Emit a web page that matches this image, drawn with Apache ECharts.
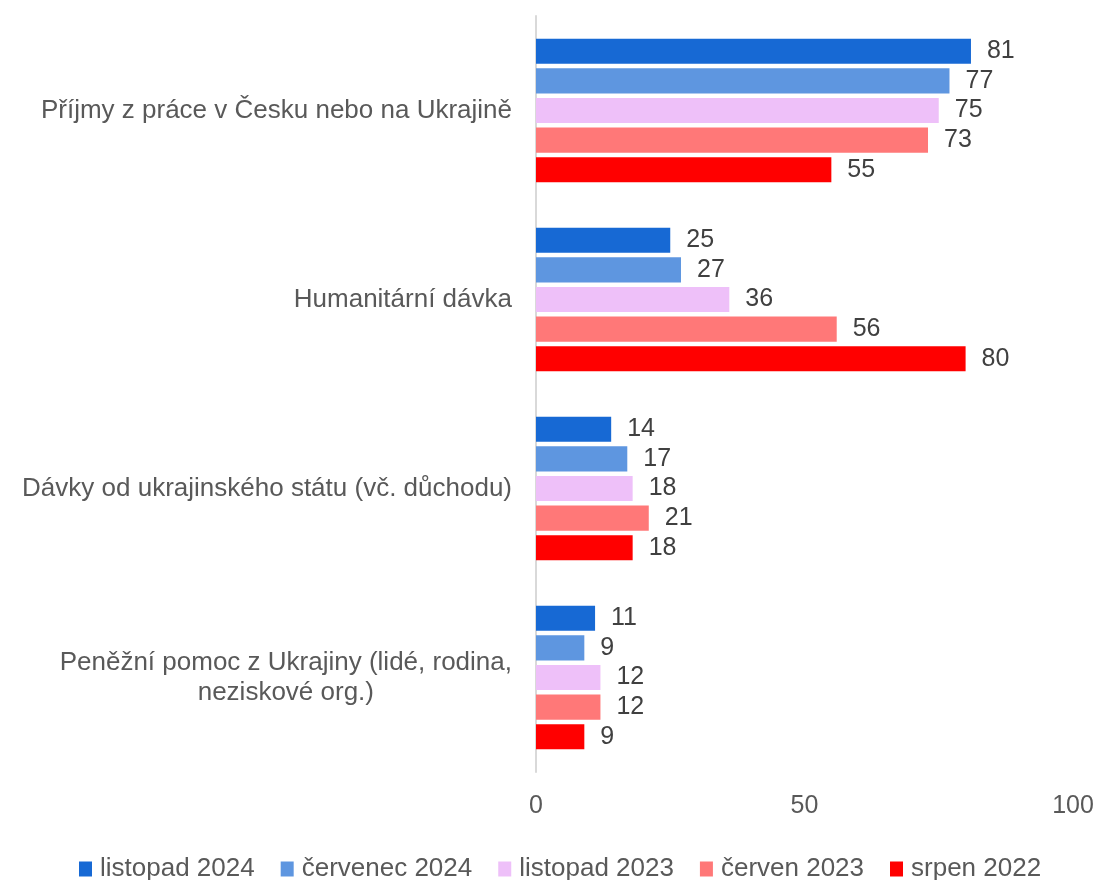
<!DOCTYPE html>
<html>
<head>
<meta charset="utf-8">
<script src="https://cdn.jsdelivr.net/npm/echarts@6/dist/echarts.min.js"></script>
<style>
  html, body { margin: 0; padding: 0; background: #fff; }
  #chart { width: 1100px; height: 880px; }
</style>
</head>
<body>
<div id="chart"></div>
<script>
const categories = [
  'Příjmy z práce v Česku nebo na Ukrajině',
  'Humanitární dávka',
  'Dávky od ukrajinského státu (vč. důchodu)',
  'Peněžní pomoc z Ukrajiny (lidé, rodina,\nneziskové org.)'
];
const seriesNames = ['listopad 2024', 'červenec 2024', 'listopad 2023', 'červen 2023', 'srpen 2022'];
const colors = ['#1769d4', '#5e96e0', '#eec0f9', '#ff7878', '#ff0000'];
const listopad2024 = [81, 25, 14, 11];
const cervenec2024 = [77, 27, 17, 9];
const listopad2023 = [75, 36, 18, 12];
const cerven2023 = [73, 56, 21, 12];
const srpen2022 = [55, 80, 18, 9];
const values = [listopad2024, cervenec2024, listopad2023, cerven2023, srpen2022];

const chart = echarts.init(document.getElementById('chart'));
const font = 'Arial, "Liberation Sans", sans-serif';

chart.setOption({
  animation: false,
  textStyle: { fontFamily: font },
  grid: { left: 536, right: 27, top: 16, bottom: 108 },
  legend: {
    top: 851,
    left: 74,
    itemWidth: 13,
    itemHeight: 15,
    itemGap: 26,
    icon: 'rect',
    textStyle: { fontSize: 26, color: '#595959', fontFamily: font, padding: [0, 0, 0, 3] },
    data: seriesNames
  },
  xAxis: {
    type: 'value',
    min: 0,
    max: 100,
    interval: 50,
    axisLine: { show: false },
    axisTick: { show: false },
    splitLine: { show: false },
    axisLabel: { fontSize: 25, color: '#595959', margin: 22 }
  },
  yAxis: {
    type: 'category',
    inverse: true,
    data: categories,
    axisLine: { show: true, lineStyle: { color: '#d9d9d9', width: 2 } },
    axisTick: { show: false },
    axisLabel: {
      margin: 24,
      align: 'right',
      formatter: v => v.split('\n').map(s => '{c|' + s + '}').join('\n'),
      rich: {
        c: { fontSize: 26, color: '#595959', fontFamily: font, align: 'center', lineHeight: 30 }
      }
    }
  },
  series: seriesNames.map((name, i) => ({
    name: name,
    type: 'bar',
    data: values[i],
    barGap: '18%',
    barCategoryGap: '24%',
    itemStyle: { color: colors[i] },
    label: {
      show: true,
      position: 'right',
      distance: 16,
      fontSize: 25,
      color: '#404040'
    }
  }))
});
</script>
</body>
</html>
